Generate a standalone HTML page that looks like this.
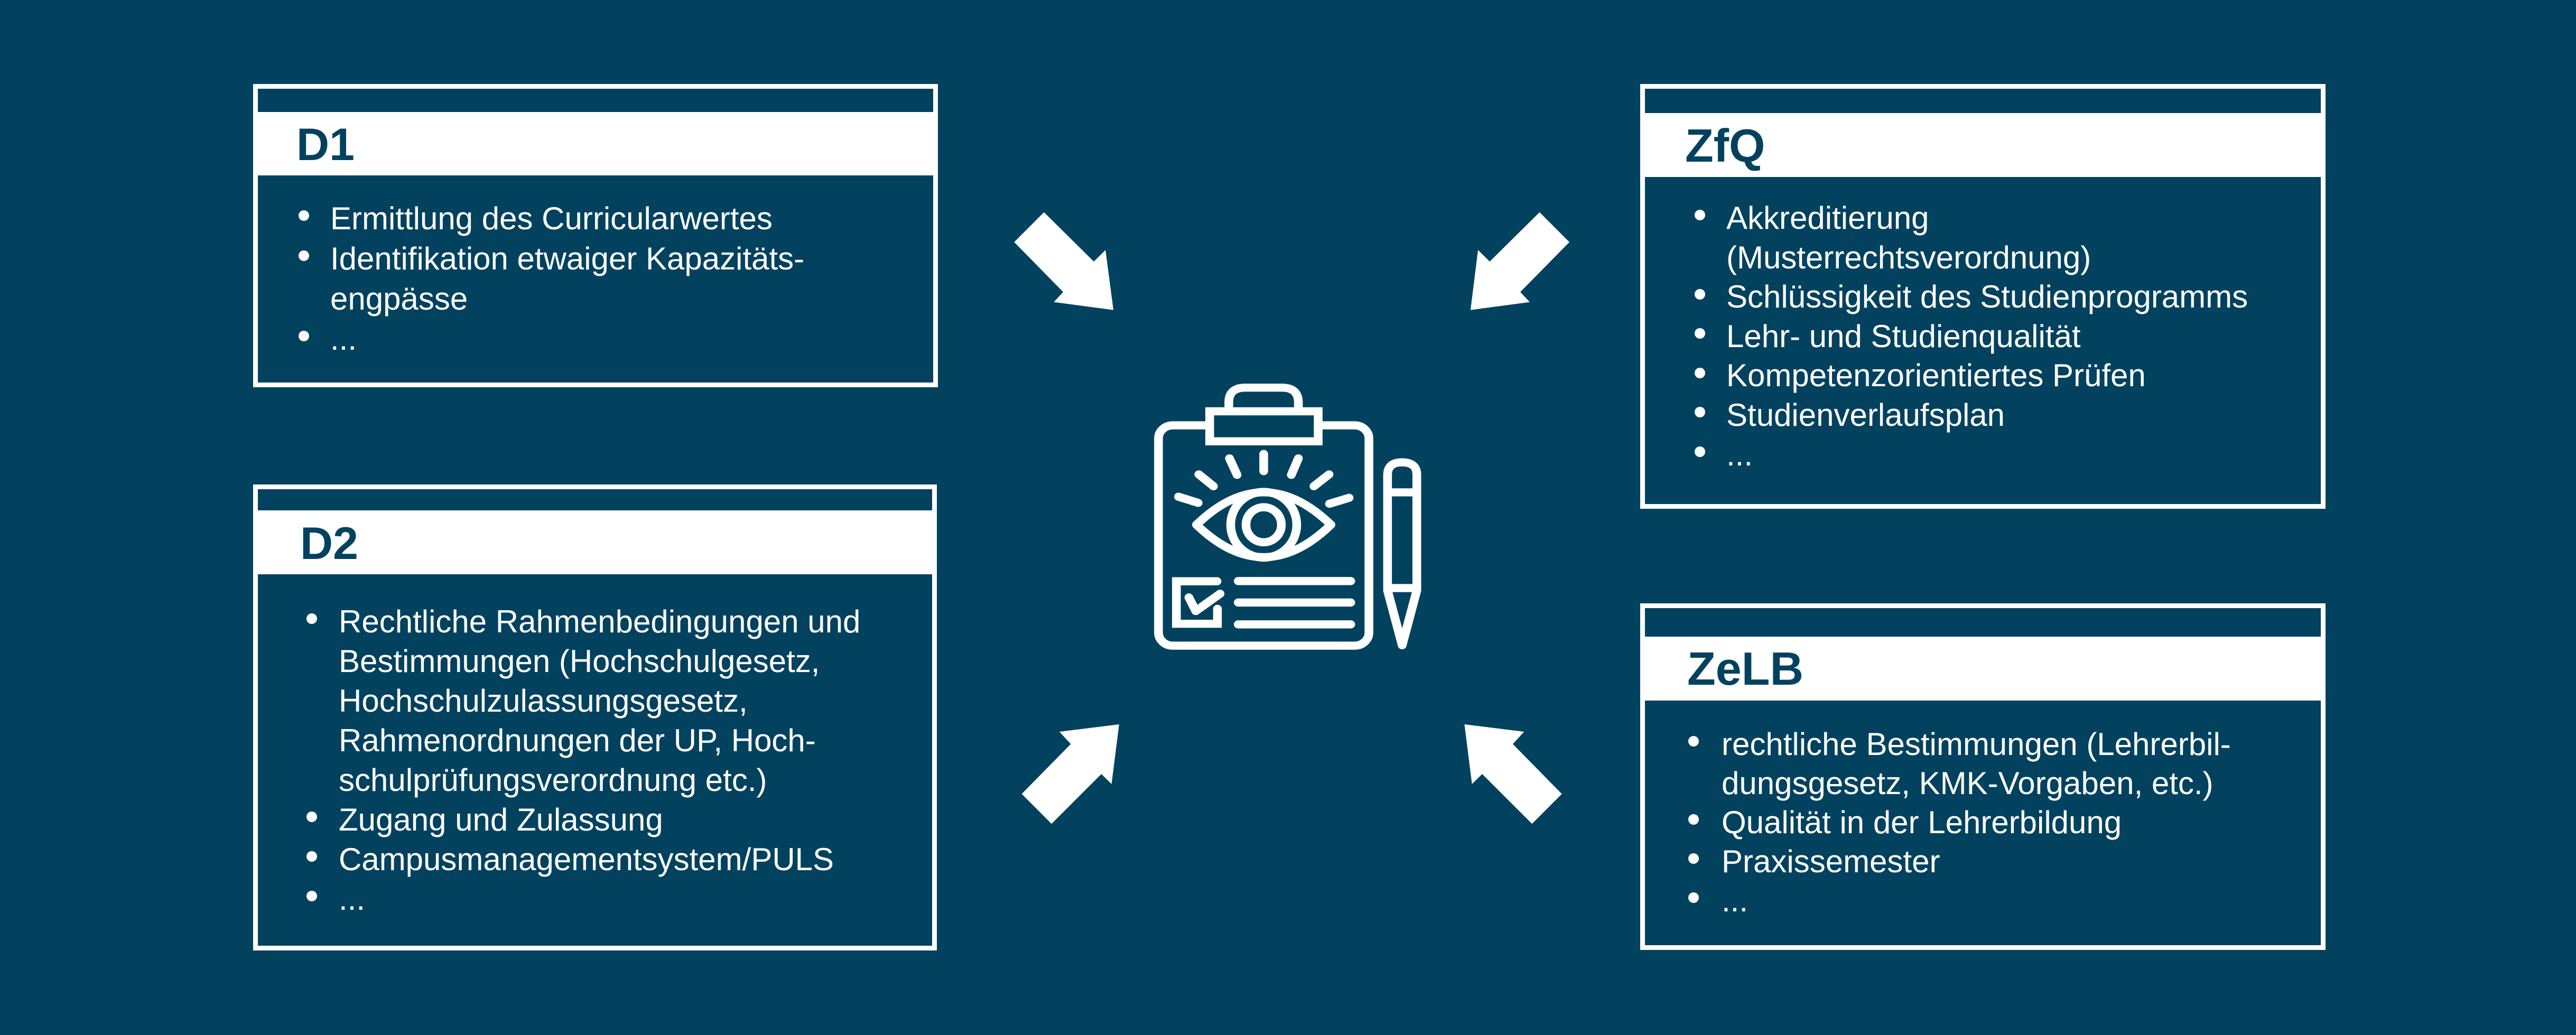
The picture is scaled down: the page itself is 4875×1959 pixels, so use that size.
<!DOCTYPE html>
<html><head><meta charset="utf-8"><style>html,body{margin:0;padding:0;background:#03425f}svg{display:block}</style></head>
<body>
<svg width="4875" height="1959" viewBox="0 0 4875 1959" xmlns="http://www.w3.org/2000/svg">
<rect width="4875" height="1959" fill="#03425f"/>
<g font-family="Liberation Sans, sans-serif">
<!-- D1 -->
<rect x="483.5" y="163.5" width="1287" height="565" fill="none" stroke="#fff" stroke-width="9"/>
<rect x="479" y="212" width="1287" height="120" fill="#fff"/>
<text x="561" y="303" font-size="86" font-weight="bold" fill="#03425f">D1</text>
<g fill="#fff" font-size="60">
<circle cx="575" cy="408" r="10"/><text x="625" y="434">Ermittlung des Curricularwertes</text>
<circle cx="575" cy="484" r="10"/><text x="625" y="510">Identifikation etwaiger Kapazitäts-</text>
<text x="625" y="586">engpässe</text>
<circle cx="575" cy="636" r="10"/><text x="625" y="662">...</text>
</g>
<!-- D2 -->
<rect x="483.5" y="921.5" width="1285" height="873" fill="none" stroke="#fff" stroke-width="9"/>
<rect x="479" y="966" width="1285" height="121" fill="#fff"/>
<text x="568" y="1058" font-size="86" font-weight="bold" fill="#03425f">D2</text>
<g fill="#fff" font-size="60">
<circle cx="590" cy="1171" r="10"/><text x="641" y="1197">Rechtliche Rahmenbedingungen und</text>
<text x="641" y="1272">Bestimmungen (Hochschulgesetz,</text>
<text x="641" y="1347">Hochschulzulassungsgesetz,</text>
<text x="641" y="1422">Rahmenordnungen der UP, Hoch-</text>
<text x="641" y="1497">schulprüfungsverordnung etc.)</text>
<circle cx="590" cy="1546" r="10"/><text x="641" y="1572">Zugang und Zulassung</text>
<circle cx="590" cy="1621" r="10"/><text x="641" y="1647">Campusmanagementsystem/PULS</text>
<circle cx="590" cy="1696" r="10"/><text x="641" y="1722">...</text>
</g>
<!-- ZfQ -->
<rect x="3108.5" y="163.5" width="1288" height="795" fill="none" stroke="#fff" stroke-width="9"/>
<rect x="3104" y="214" width="1288" height="121" fill="#fff"/>
<text x="3189" y="306" font-size="88" font-weight="bold" fill="#03425f">ZfQ</text>
<g fill="#fff" font-size="60">
<circle cx="3217" cy="407" r="10"/><text x="3267" y="433">Akkreditierung</text>
<text x="3267" y="508">(Musterrechtsverordnung)</text>
<circle cx="3217" cy="557" r="10"/><text x="3267" y="582">Schlüssigkeit des Studienprogramms</text>
<circle cx="3217" cy="631" r="10"/><text x="3267" y="657">Lehr- und Studienqualität</text>
<circle cx="3217" cy="706" r="10"/><text x="3267" y="731">Kompetenzorientiertes Prüfen</text>
<circle cx="3217" cy="780" r="10"/><text x="3267" y="806">Studienverlaufsplan</text>
<circle cx="3217" cy="855" r="10"/><text x="3267" y="881">...</text>
</g>
<!-- ZeLB -->
<rect x="3108.5" y="1146.5" width="1288" height="647" fill="none" stroke="#fff" stroke-width="9"/>
<rect x="3104" y="1205" width="1288" height="121" fill="#fff"/>
<text x="3193" y="1296" font-size="88" font-weight="bold" fill="#03425f">ZeLB</text>
<g fill="#fff" font-size="60">
<circle cx="3205" cy="1403" r="10"/><text x="3258" y="1429">rechtliche Bestimmungen (Lehrerbil-</text>
<text x="3258" y="1503">dungsgesetz, KMK-Vorgaben, etc.)</text>
<circle cx="3205" cy="1551" r="10"/><text x="3258" y="1577">Qualität in der Lehrerbildung</text>
<circle cx="3205" cy="1625" r="10"/><text x="3258" y="1651">Praxissemester</text>
<circle cx="3205" cy="1699" r="10"/><text x="3258" y="1725">...</text>
</g>
</g>
<!-- arrows -->
<g fill="#fff">
<polygon points="1975.7,401.7 1919.3,458.3 2012.1,552.7 1994.3,571.7 2107.1,586.7 2092.1,473.3 2070,495"/>
<polygon points="2913.6,401.7 2970,458.3 2877.1,552.7 2895,571.7 2782.9,586.7 2797.1,473.3 2819.3,495"/>
<polygon points="1990,1559.3 1933.6,1502.7 2026.4,1408.3 2005,1385 2117.9,1371 2103.6,1484 2084.3,1465"/>
<polygon points="2899.3,1559.3 2955.7,1502.7 2862.9,1408.3 2884.3,1385 2771.4,1371 2785.7,1484 2805,1465"/>
</g>
<!-- icon -->
<svg x="2100" y="650" width="700" height="650" viewBox="0 0 1568 1568" preserveAspectRatio="none">
<g fill="none" stroke="#fff" stroke-width="37" stroke-linecap="round" stroke-linejoin="round">
<rect x="207" y="374" width="892" height="1006" rx="60"/>
<path d="M505 300 V270 Q505 202 575 202 H730 Q800 202 800 270 V300"/>
<rect x="424" y="310" width="460" height="137" fill="#03425f" stroke-linejoin="miter" stroke-linecap="butt"/>
<line x1="653" y1="505" x2="653" y2="583"/>
<line x1="508" y1="525" x2="540" y2="600"/>
<line x1="800" y1="525" x2="770" y2="600"/>
<line x1="378" y1="598" x2="440" y2="652"/>
<line x1="930" y1="598" x2="866" y2="652"/>
<line x1="292" y1="700" x2="375" y2="728"/>
<line x1="1015" y1="705" x2="932" y2="732"/>
<path d="M368 828 Q653 532 938 828 Q653 1124 368 828 Z"/>
<ellipse cx="653" cy="828" rx="140" ry="150"/>
<ellipse cx="653" cy="828" rx="75" ry="80"/>
<path d="M455 1086 H283 V1280 H457 V1212" stroke-linecap="round" stroke-linejoin="miter"/>
<path d="M336 1160 L365 1222 L468 1143"/>
<line x1="545" y1="1085" x2="1022" y2="1085"/>
<line x1="545" y1="1183" x2="1022" y2="1183"/>
<line x1="545" y1="1283" x2="1022" y2="1283"/>
<path d="M1178 1128 V600 Q1178 543 1240 543 Q1302 543 1302 600 V1128 L1240 1378 Z"/>
<line x1="1178" y1="680" x2="1302" y2="680" stroke-linecap="butt"/>
<line x1="1178" y1="1117" x2="1302" y2="1117" stroke-linecap="butt"/>
</g>
</svg>
</svg>
</body></html>
